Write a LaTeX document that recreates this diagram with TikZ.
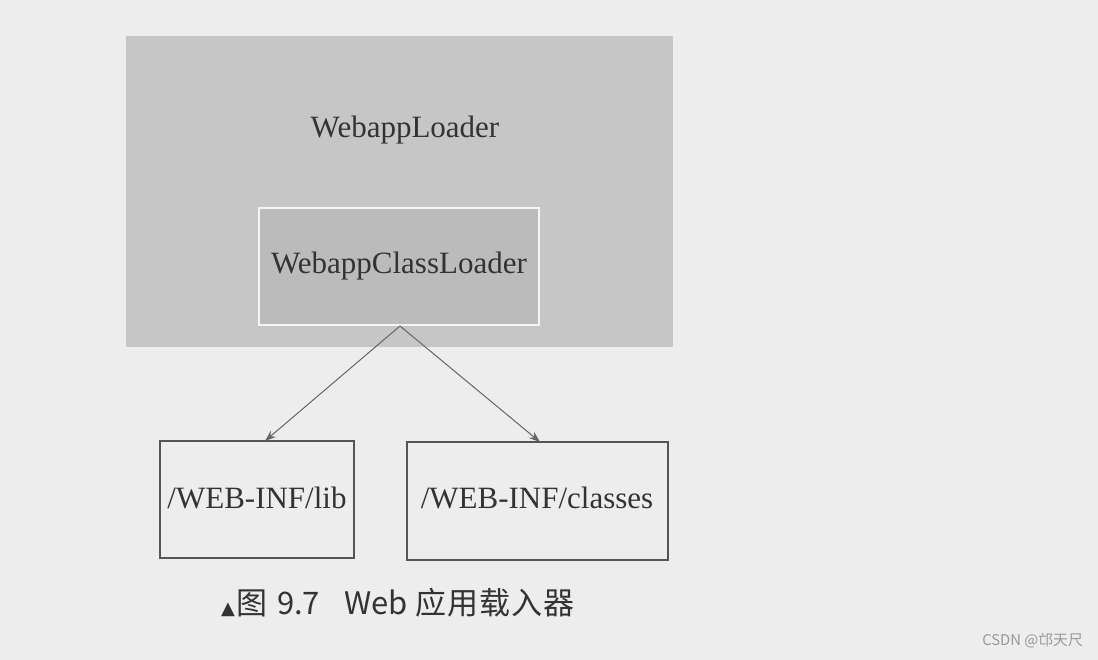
\documentclass[tikz,border=0pt]{standalone}
\usepackage{fontspec}
\setmainfont{Liberation Serif}
\newfontfamily\cjkfnt{Noto Sans CJK SC}
\newfontfamily\symfnt{DejaVu Sans}
\usetikzlibrary{arrows.meta}
\definecolor{paper}{HTML}{EDEDED}
\definecolor{outerfill}{HTML}{C6C6C6}
\definecolor{innerfill}{HTML}{BBBBBB}
\definecolor{ink}{HTML}{333333}
\definecolor{frame}{HTML}{555555}
\definecolor{arrowc}{HTML}{666666}
\tikzset{
  outerbox/.style={fill=outerfill, draw=none},
  innerbox/.style={fill=innerfill, draw=white!92!gray, line width=1.5pt},
  dirbox/.style={draw=frame, line width=1.8pt, fill=paper},
  label/.style={text=ink, font=\fontsize{31}{34}\selectfont, inner sep=0pt},
  conn/.style={draw=arrowc, line width=1pt, -{Stealth[length=11pt,width=8pt]}},
}
\begin{document}
\begin{tikzpicture}[x=1pt,y=-1pt]
\path[fill=paper] (0,0) rectangle (1098,660);
\useasboundingbox (0,0) rectangle (1098,660);
% outer gray box
\path[outerbox] (126,36) rectangle (673,347);
\node[label] (wl) at (405,130) {WebappLoader};
\draw[innerbox] (259,208) rectangle (539,325);
\node[label] (wcl) at (399,266) {WebappClassLoader};
\coordinate (src) at (400,326);
% directory boxes
\draw[dirbox] (160,441) rectangle (354,558);
\node[label] (lib) at (257,498) {/WEB-INF/lib};
\draw[dirbox] (407,442) rectangle (668,560);
\node[label] (cls) at (537,498) {/WEB-INF/classes};
\coordinate (libtop) at (265,441);
\coordinate (clstop) at (540,442);
\draw[conn] (src) -- (libtop);
\draw[conn] (src) -- (clstop);
% caption
\node[text=ink, inner sep=0pt, anchor=west, font=\cjkfnt\fontsize{31}{34}\selectfont] (cap) at (221,603)
  {{\symfnt\fontsize{18}{20}\selectfont ▲}\hspace{1pt}图\hspace{10pt}9.7\hspace{24pt}Web\hspace{8pt}应\hspace{1pt}用\hspace{1pt}载\hspace{1pt}入\hspace{1pt}器};
% watermark
\node[text=gray!80, inner sep=0pt, anchor=east, font=\cjkfnt\fontsize{14.8}{17}\selectfont] (wm) at (1083,641) {CSDN @邙天尺};
\end{tikzpicture}
\end{document}
